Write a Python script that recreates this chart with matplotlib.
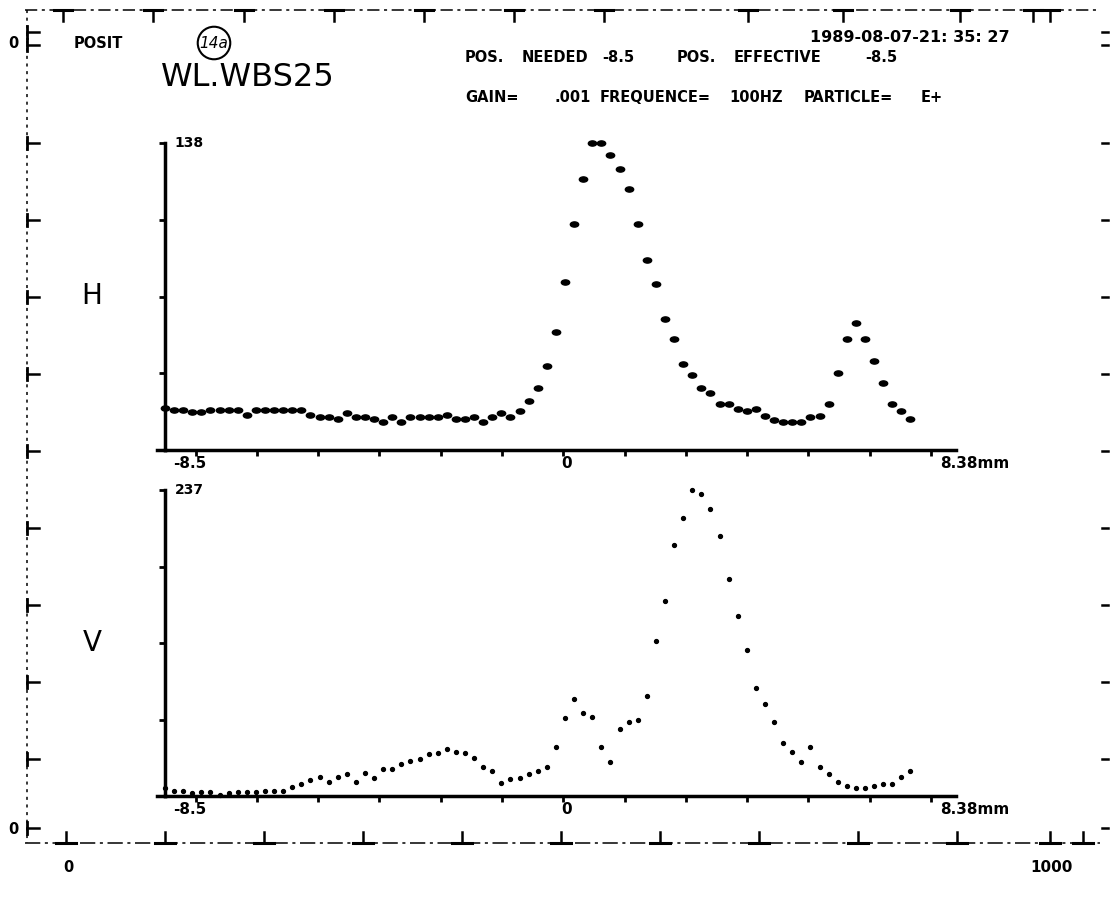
import matplotlib.pyplot as plt
from matplotlib.path import Path
from matplotlib.transforms import Affine2D

# wire scan: first position (mm) and step between samples
x_start = -8.5
x_step = 0.194
x_min, x_max = -8.5, 8.38
x_tick_step = 1.308

h_max = 138
v_max = 237

# horizontal profile (counts)
h_counts = [18.7, 18.0, 18.0, 16.9, 16.9, 18.0, 18.0, 18.0, 18.0, 15.7,
            18.0, 18.0, 18.0, 18.0, 18.0, 18.0, 15.7, 14.7, 14.7, 13.9,
            16.8, 14.7, 14.7, 13.9, 12.7, 14.7, 12.7, 14.7, 14.7, 14.7,
            14.7, 15.7, 13.8, 13.8, 14.7, 12.7, 14.7, 16.5, 14.7, 17.7,
            22.0, 27.7, 37.8, 52.9, 75.7, 101.7, 121.7, 138.0, 138.0, 132.6,
            126.3, 117.5, 101.7, 85.4, 74.6, 58.9, 49.7, 38.7, 33.7, 27.7,
            25.5, 20.7, 20.7, 18.6, 17.5, 18.6, 15.4, 13.5, 12.7, 12.7,
            12.7, 14.7, 15.4, 20.7, 34.8, 49.9, 56.9, 49.9, 40.0, 30.0,
            20.7, 17.5, 13.8]

# vertical profile (counts)
v_counts = [5.9, 3.9, 3.9, 2.1, 3.1, 3.1, 0.8, 2.1, 3.4, 3.4,
            3.4, 4.1, 4.1, 4.1, 6.7, 9.3, 12.4, 14.5, 11.1, 14.5,
            17.0, 11.1, 18.1, 14.2, 20.7, 20.7, 24.8, 26.9, 28.9, 32.5,
            33.0, 36.4, 34.3, 33.0, 29.7, 22.2, 19.4, 10.3, 13.4, 13.9,
            17.3, 19.4, 22.5, 38.2, 60.4, 75.1, 64.5, 61.4, 38.2, 26.6,
            52.1, 57.6, 58.6, 77.5, 120.3, 151.3, 194.7, 215.6, 237.0, 233.6,
            222.0, 201.6, 168.3, 139.2, 113.1, 83.9, 71.3, 57.3, 41.3, 34.1,
            26.6, 38.2, 22.2, 16.8, 10.8, 7.7, 5.9, 5.9, 8.0, 9.0,
            9.0, 15.0, 19.1]

# header words (text, x pixel) - the plotter font is wider than any installed one
header_1 = [('POS.', 465), ('NEEDED', 522), ('-8.5', 602), ('POS.', 677),
            ('EFFECTIVE', 734), ('-8.5', 865)]
header_2 = [('GAIN=', 465), ('.001', 554), ('FREQUENCE=', 600), ('100HZ', 729),
            ('PARTICLE=', 804), ('E+', 921)]
date_text = '1989-08-07-21: 35: 27'

# plotter frame decoration (pixel positions)
top_ticks = [63, 153, 244, 334, 424, 514, 604, 748, 843, 960, 1033, 1050]
bottom_ticks = [66, 165, 264, 363, 462, 561, 660, 759, 858, 957, 1050, 1083]
side_ticks = [32, 45, 143, 220, 297, 374, 451, 528, 605, 682, 759, 828]

W, H = 1110, 899
fig = plt.figure(figsize=(W / 100, H / 100), dpi=100)
fig.patch.set_facecolor('white')

frame = fig.add_axes([0, 0, 1, 1])
frame.set_xlim(0, W)
frame.set_ylim(H, 0)
frame.axis('off')

k = 'black'
frame.plot([25, 1100], [10, 10], color=k, lw=1.1, ls=(0, (8, 3, 2, 3)))
frame.plot([27, 27], [10, 843], color=k, lw=1.1, ls=(0, (2, 3)))
frame.plot([25, 1100], [843, 843], color=k, lw=1.1, ls=(0, (10, 3, 2, 3)))
for x in top_ticks:
    frame.plot([x, x], [10, 21], color=k, lw=1.8)
    frame.plot([x - 9, x + 9], [10, 10], color=k, lw=2.2)
for x in bottom_ticks:
    frame.plot([x, x], [843, 832], color=k, lw=1.8)
    frame.plot([x - 10, x + 10], [843, 843], color=k, lw=2.2)
for y in side_ticks:
    frame.plot([27, 39], [y, y], color=k, lw=1.8)
    frame.plot([27, 27], [y - 6, y + 6], color=k, lw=2)
    frame.plot([1102, 1108], [y, y], color=k, lw=1.8)

bold = dict(fontweight='bold', family='DejaVu Sans', color=k, va='center')
frame.text(13, 43, '0', ha='center', fontsize=10.5, **bold)
frame.text(13, 830, '0', ha='center', fontsize=10.5, **bold)
frame.text(68, 868, '0', ha='center', fontsize=10.5, **bold)
frame.text(1052, 868, '1000', ha='center', fontsize=11, **bold)

frame.text(74, 43, 'POSIT', ha='left', fontsize=10.5, **bold)
frame.text(214, 43, '14a', ha='center', va='center', fontsize=11, fontstyle='italic',
           bbox=dict(boxstyle='circle,pad=0.12', fc='none', ec=k, lw=1.5))
frame.text(161, 78, 'WL.WBS25', ha='left', va='center', fontsize=23, color=k)
frame.text(810, 38, date_text, ha='left', fontsize=11.5, **bold)
for txt, x in header_1:
    frame.text(x, 57, txt, ha='left', fontsize=10.5, **bold)
for txt, x in header_2:
    frame.text(x, 98, txt, ha='left', fontsize=10.5, **bold)

ellipse = Path(Affine2D().scale(1.6, 1.0).transform_path(Path.unit_circle()).vertices,
               Path.unit_circle().codes)


def panel(top_px, bottom_px, counts, ymax, name, marker, msize):
    ax = fig.add_axes([165 / W, 1 - bottom_px / H, 791 / W, (bottom_px - top_px) / H])
    ax.patch.set_alpha(0)
    positions = [x_start + i * x_step for i in range(len(counts))]
    ax.plot(positions, counts, ls='none', marker=marker, ms=msize,
            color=k, clip_on=False, zorder=5)
    ax.set_xlim(x_min, x_max)
    ax.set_ylim(0, ymax)
    for s in ['top', 'right']:
        ax.spines[s].set_visible(False)
    for s in ['left', 'bottom']:
        ax.spines[s].set_linewidth(2.5)
    ax.set_xticks([i * x_tick_step for i in range(-6, 7)])
    ax.set_yticks([ymax * i / 4 for i in range(5)])
    ax.tick_params(direction='out', length=4, width=2,
                   labelleft=False, labelbottom=False)
    frame.plot([157, 165], [bottom_px, bottom_px], color=k, lw=2.5)
    lab_y = bottom_px + 14
    frame.text(204, top_px, str(ymax), ha='right', fontsize=10, **bold)
    frame.text(92, (top_px + bottom_px) / 2, name, ha='center', va='center',
               fontsize=20, color=k)
    frame.text(190, lab_y, '-8.5', ha='center', fontsize=11, **bold)
    frame.text(567, lab_y, '0', ha='center', fontsize=11, **bold)
    frame.text(975, lab_y, '8.38mm', ha='center', fontsize=11, **bold)
    return ax


panel(143, 450, h_counts, h_max, 'H', ellipse, 6.0)
panel(490, 796, v_counts, v_max, 'V', 'o', 2.8)

fig.savefig('out.png', dpi=100, facecolor='white')
